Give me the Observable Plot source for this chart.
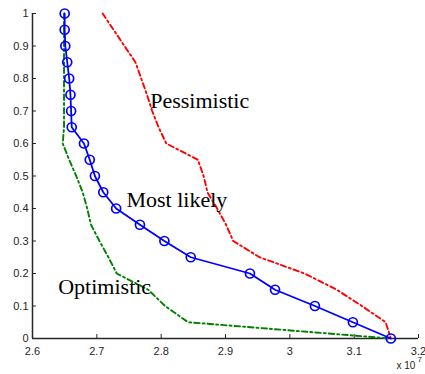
<!DOCTYPE html>
<html>
<head>
<meta charset="utf-8">
<script src="https://cdn.jsdelivr.net/npm/d3@7"></script>
<script src="https://cdn.jsdelivr.net/npm/@observablehq/plot@0.6"></script>
<style>
  html, body { margin: 0; padding: 0; background: #fff; }
  #chart svg { display: block; }
</style>
</head>
<body>
<div id="chart"></div>
<script>
// Probability levels (y) shared by all three series
const levels = [1, 0.95, 0.9, 0.85, 0.8, 0.75, 0.7, 0.65, 0.6, 0.55, 0.5, 0.45, 0.4, 0.35, 0.3, 0.25, 0.2, 0.15, 0.1, 0.05, 0];

// x values in units of 10^7
const mostLikely = [2.650, 2.650, 2.651, 2.654, 2.657, 2.659, 2.660, 2.661, 2.680, 2.689, 2.697, 2.710, 2.730, 2.767, 2.805, 2.846, 2.938, 2.977, 3.039, 3.098, 3.157];
const pessimistic = [2.709, 2.726, 2.743, 2.760, 2.769, 2.778, 2.786, 2.796, 2.808, 2.857, 2.866, 2.872, 2.887, 2.901, 2.912, 2.953, 3.023, 3.073, 3.112, 3.149, 3.157];
const optimistic = [2.649, 2.649, 2.649, 2.649, 2.649, 2.649, 2.649, 2.649, 2.647, 2.657, 2.668, 2.678, 2.685, 2.691, 2.704, 2.718, 2.731, 2.780, 2.806, 2.842, 3.157];

const xTicks = [2.6, 2.7, 2.8, 2.9, 3.0, 3.1, 3.2];
const yTicks = [0, 0.1, 0.2, 0.3, 0.4, 0.5, 0.6, 0.7, 0.8, 0.9, 1];

const labelNames = ["Pessimistic", "Most likely", "Optimistic"];
const labelX = [2.783, 2.746, 2.640];
const labelY = [0.73, 0.425, 0.16];

const toRows = (xs) => xs.map((x, i) => ({x, y: levels[i]}));
const labels = labelNames.map((t, i) => ({t, x: labelX[i], y: labelY[i]}));
const fmt = d => String(Number(d.toFixed(1)));

const dashDot = "5.5,3,2,3";

const chart = Plot.plot({
  width: 425,
  height: 374,
  marginLeft: 32,
  marginRight: 7,
  marginTop: 13,
  marginBottom: 36,
  style: {fontFamily: "Liberation Sans, Arial, sans-serif", fontSize: "11px", color: "#262626", background: "#fff"},
  x: {domain: [2.6, 3.2]},
  y: {domain: [0, 1]},
  marks: [
    Plot.axisX({ticks: xTicks, tickFormat: fmt, tickSize: -4, tickPadding: 13, stroke: "#262626", fill: "#262626", label: null, fontSize: 11}),
    Plot.axisY({ticks: yTicks, tickFormat: fmt, tickSize: -4, tickPadding: 8, stroke: "#262626", fill: "#262626", label: null, fontSize: 11}),
    Plot.ruleY([0], {stroke: "#262626", strokeWidth: 1.5}),
    Plot.ruleX([2.6], {stroke: "#262626", strokeWidth: 1.5}),
    Plot.line(toRows(optimistic), {x: "x", y: "y", stroke: "#008000", strokeWidth: 1.9, strokeDasharray: dashDot}),
    Plot.line(toRows(pessimistic), {x: "x", y: "y", stroke: "#ff0000", strokeWidth: 1.9, strokeDasharray: dashDot}),
    Plot.line(toRows(mostLikely), {x: "x", y: "y", stroke: "#0000ff", strokeWidth: 1.8}),
    Plot.dot(toRows(mostLikely), {x: "x", y: "y", r: 4.5, stroke: "#0000ff", strokeWidth: 1.7, fill: "none"}),
    Plot.text(labels, {x: "x", y: "y", text: "t", textAnchor: "start", fontFamily: "Liberation Serif, Times New Roman, serif", fontSize: 22, fill: "#000"}),
    Plot.text(["x 10"], {frameAnchor: "bottom-right", dx: -22, dy: 30, textAnchor: "start", fontSize: 10, fill: "#262626"}),
    Plot.text(["7"], {frameAnchor: "bottom-right", dx: -1, dy: 23, textAnchor: "start", fontSize: 8, fill: "#262626"})
  ]
});

document.getElementById("chart").appendChild(chart);
</script>
</body>
</html>
